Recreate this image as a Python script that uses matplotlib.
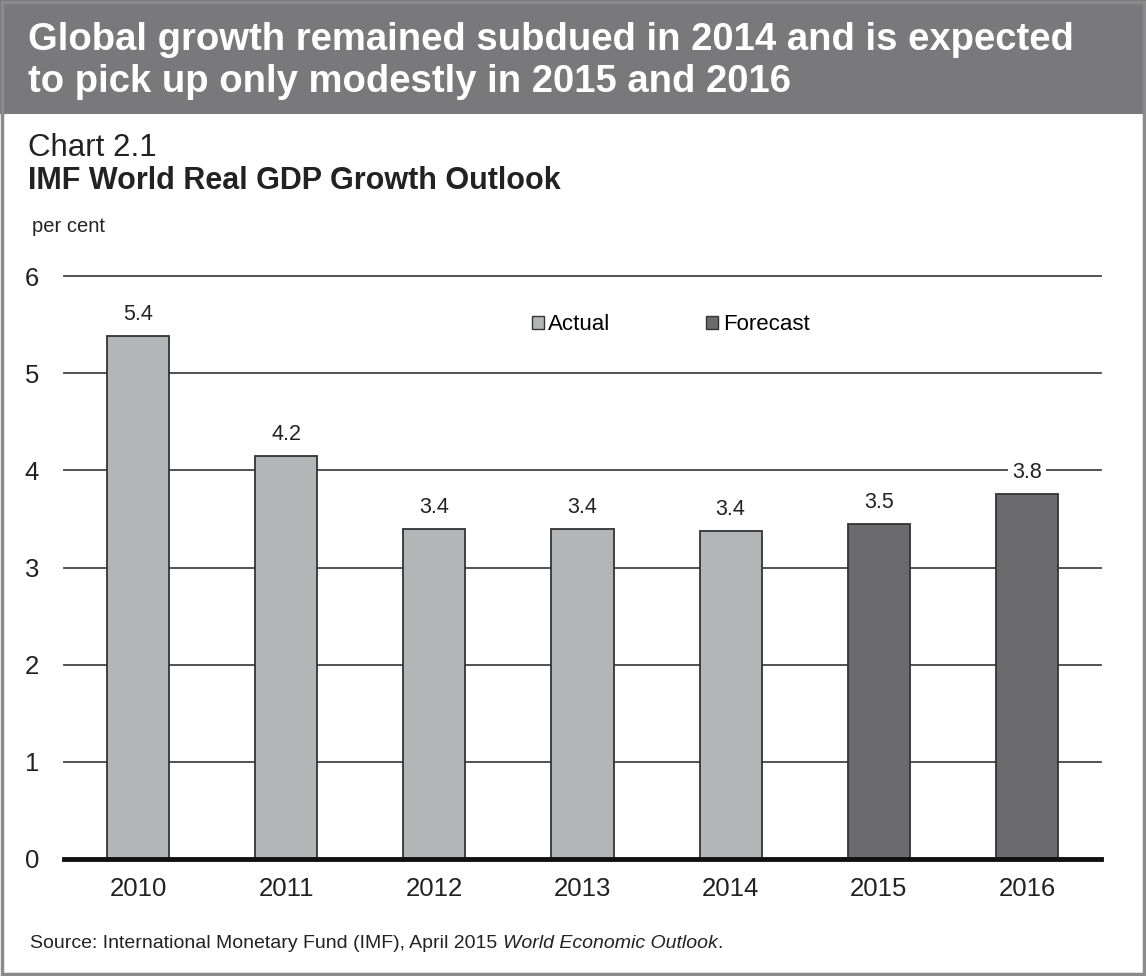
import matplotlib
matplotlib.use("Agg")
import matplotlib.pyplot as plt
from matplotlib.patches import Rectangle, Patch

plt.rcParams["font.family"] = ["Liberation Sans", "DejaVu Sans"]

# Data.
years = ["2010", "2011", "2012", "2013", "2014", "2015", "2016"]
growth = [5.38, 4.15, 3.40, 3.40, 3.38, 3.45, 3.76]
value_labels = ["5.4", "4.2", "3.4", "3.4", "3.4", "3.5", "3.8"]
is_forecast = [False, False, False, False, False, True, True]
y_ticks = [0, 1, 2, 3, 4, 5, 6]

ACTUAL = "#b4b5b7"
FORECAST = "#6b6b6d"
EDGE = "#333333"
TEXT = "#222222"


def main():
    W, H = 1146, 976
    fig = plt.figure(figsize=(W / 100, H / 100), dpi=100)

    # Header band and outer frame.
    fig.patches.append(Rectangle((0, 1 - 114 / H), 1, 114 / H, transform=fig.transFigure,
                                 facecolor="#79797b", edgecolor="none", zorder=0))
    fig.patches.append(Rectangle((2 / W, 2 / H), 1 - 4 / W, 1 - 4 / H, transform=fig.transFigure,
                                 facecolor="none", edgecolor="#8a8a8a", linewidth=2.5, zorder=1))

    fig.text(28 / W, 1 - 40 / H, "Global growth remained subdued in 2014 and is expected",
             color="white", fontsize=27.5, fontweight="bold", va="center", ha="left")
    fig.text(28 / W, 1 - 82 / H, "to pick up only modestly in 2015 and 2016",
             color="white", fontsize=27.5, fontweight="bold", va="center", ha="left")

    fig.text(28 / W, 1 - 148 / H, "Chart 2.1", color=TEXT, fontsize=22.5, va="center")
    fig.text(28 / W, 1 - 181 / H, "IMF World Real GDP Growth Outlook", color=TEXT,
             fontsize=22, fontweight="bold", va="center")
    fig.text(32 / W, 1 - 226 / H, "per cent", color=TEXT, fontsize=14.5, va="center")

    first = fig.text(30 / W, 1 - 943 / H, "Source: International Monetary Fund (IMF), April 2015 ",
                     color=TEXT, fontsize=14, va="center")
    src = fig.text(0, 1 - 943 / H, "World Economic Outlook", color=TEXT, fontsize=14,
                   va="center", style="italic")
    dot = fig.text(0, 1 - 943 / H, ".", color=TEXT, fontsize=14, va="center")

    ax = fig.add_axes([64 / W, 1 - 859 / H, (1101 - 64) / W, (859 - 276) / H])
    x = list(range(len(years)))
    colors = [FORECAST if f else ACTUAL for f in is_forecast]
    ax.bar(x, growth, width=0.42, color=colors, edgecolor=EDGE, linewidth=1.3, zorder=3)

    for xi, v, lab in zip(x, growth, value_labels):
        ax.text(xi, v + 0.22, lab, ha="center", va="center", fontsize=15.5, color=TEXT,
                zorder=4, bbox=dict(facecolor="white", edgecolor="none", pad=3))

    ax.set_xlim(-0.5, 6.5)
    ax.set_ylim(0, 6)
    ax.set_yticks(y_ticks)
    ax.set_xticks(x)
    ax.set_xticklabels(years)
    ax.grid(axis="y", color="#444444", linewidth=1.3, zorder=1)
    for g in ax.get_ygridlines():
        g.set_clip_on(False)
    ax.axhline(0, color="#111111", linewidth=3.5, zorder=5, clip_on=False)
    for s in ax.spines.values():
        s.set_visible(False)
    ax.tick_params(axis="both", length=0, labelsize=18.5, labelcolor=TEXT)
    ax.tick_params(axis="y", pad=18)
    ax.tick_params(axis="x", pad=13)

    handles = [Patch(facecolor=ACTUAL, edgecolor=EDGE, label="Actual"),
               Patch(facecolor=FORECAST, edgecolor=EDGE, label="Forecast")]
    ax.legend(handles=handles, loc="center left", bbox_to_anchor=(0.451, 0.916), ncol=2,
              frameon=False, fontsize=16, handlelength=0.55, handleheight=0.55,
              handletextpad=0.2, columnspacing=4.3, borderpad=0, borderaxespad=0)

    # Place the italic part right after the plain source text.
    fig.canvas.draw()
    r = fig.canvas.get_renderer()
    bb = first.get_window_extent(r)
    src.set_x(bb.x1 / W)
    bb2 = src.get_window_extent(r)
    dot.set_x(bb2.x1 / W)

    fig.savefig("out.png", dpi=100)


if __name__ == "__main__":
    main()
